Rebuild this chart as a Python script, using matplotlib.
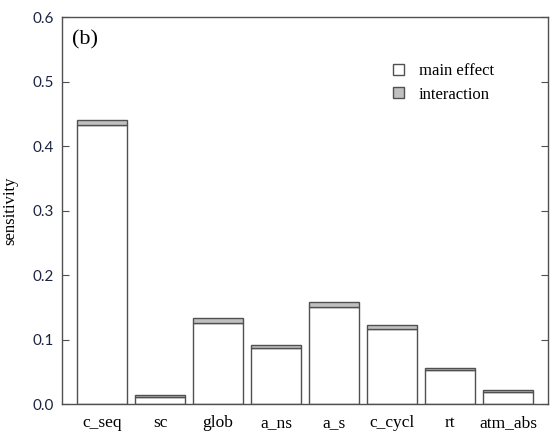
import numpy as np
import matplotlib
matplotlib.use('Agg')
import matplotlib.pyplot as plt

# Sensitivity indices per parameter
params = ['c_seq', 'sc', 'glob', 'a_ns', 'a_s', 'c_cycl', 'rt', 'atm_abs']
main_effect = [0.432, 0.011, 0.125, 0.087, 0.150, 0.117, 0.052, 0.018]
interaction = [0.008, 0.003, 0.009, 0.004, 0.008, 0.005, 0.004, 0.004]

serif = ['Liberation Serif', 'DejaVu Serif']
edge = '#505050'

fig = plt.figure(figsize=(5.5, 4.37), dpi=100)
ax = fig.add_axes([0.1127, 0.0755, 0.8837, 0.8855])

x = np.arange(len(params))
ax.bar(x, main_effect, width=0.845, color='white', edgecolor=edge, linewidth=1.0,
       label='main effect')
ax.bar(x, interaction, bottom=main_effect, width=0.845, color='#c0c0c0',
       edgecolor=edge, linewidth=1.0, label='interaction')

ax.set_xlim(-0.69, 7.69)
ax.set_ylim(0, 0.6)
ax.set_yticks(np.arange(0, 0.61, 0.1))
ax.set_yticklabels(['0.0', '0.1', '0.2', '0.3', '0.4', '0.5', '0.6'],
                   family=['Lato', 'DejaVu Sans'], fontsize=11, color='#1c2540')
ax.set_xticks(x)
ax.set_xticklabels(params, family=serif, fontsize=12.5)
ax.tick_params(axis='x', length=0, pad=8)
ax.tick_params(axis='y', direction='in', length=5, right=True, color=edge, pad=6)
for s in ax.spines.values():
    s.set_color(edge)
    s.set_linewidth(1.0)

ax.set_ylabel('sensitivity', family=serif, fontsize=12, labelpad=10)
ax.text(0.02, 0.965, '(b)', transform=ax.transAxes, family=serif, fontsize=16,
        va='top', ha='left')

leg = ax.legend(loc='upper right', bbox_to_anchor=(0.92, 0.92), frameon=False,
                prop={'family': serif, 'size': 12}, handlelength=0.65,
                handleheight=0.65, handletextpad=0.9, labelspacing=0.45)

fig.savefig('out.png', dpi=100)
